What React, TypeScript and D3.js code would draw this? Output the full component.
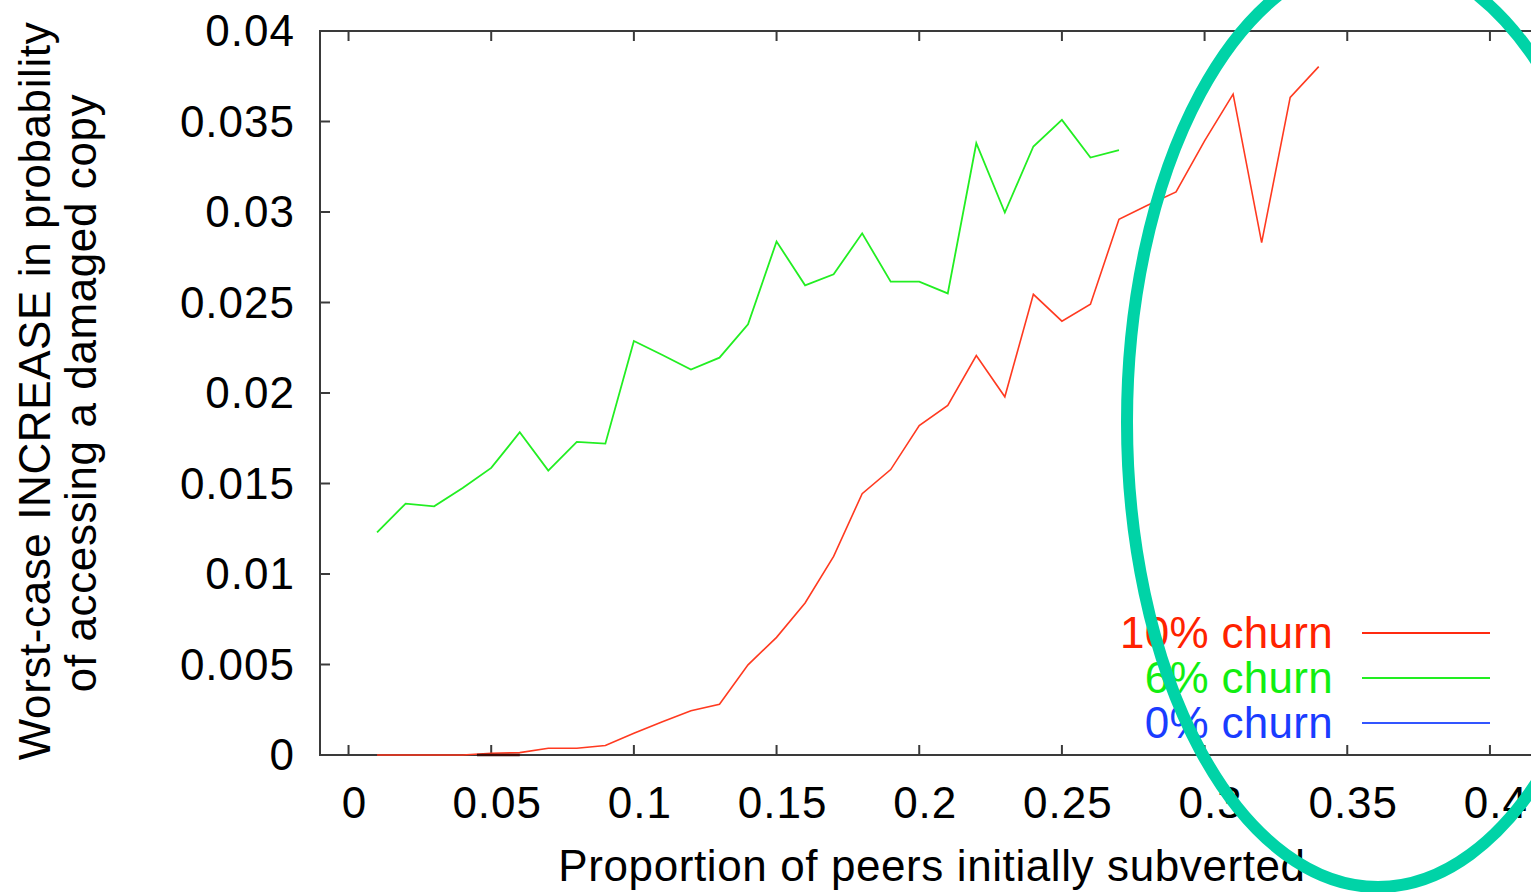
import * as d3 from "d3";
import * as React from "react";

// proportion of peers initially subverted
const xs10 = [0.01, 0.02, 0.03, 0.04, 0.05, 0.06, 0.07, 0.08, 0.09, 0.1, 0.11, 0.12, 0.13, 0.14, 0.15, 0.16, 0.17,
    0.18, 0.19, 0.2, 0.21, 0.22, 0.23, 0.24, 0.25, 0.26, 0.27, 0.28, 0.29, 0.3, 0.31, 0.32, 0.33, 0.34];
const churn10 = [0, 0, 0, 0, 0.0001, 0.00013, 0.00037, 0.00037, 0.00052, 0.0012, 0.00184, 0.00245, 0.0028, 0.00498,
    0.0065, 0.0084, 0.01097, 0.01444, 0.01577, 0.0182, 0.01931, 0.02207, 0.01979, 0.02545, 0.02397, 0.0249,
    0.0296, 0.03037, 0.03111, 0.03393, 0.03651, 0.02831, 0.03633, 0.03803];

const xs6 = [0.01, 0.02, 0.03, 0.04, 0.05, 0.06, 0.07, 0.08, 0.09, 0.1, 0.11, 0.12, 0.13, 0.14, 0.15, 0.16, 0.17,
    0.18, 0.19, 0.2, 0.21, 0.22, 0.23, 0.24, 0.25, 0.26, 0.27];
const churn6 = [0.0123, 0.01389, 0.01374, 0.01475, 0.01586, 0.01783, 0.01571, 0.0173, 0.0172, 0.02287, 0.0221,
    0.0213, 0.02195, 0.02379, 0.02837, 0.02595, 0.02656, 0.02882, 0.02615, 0.02615, 0.0255, 0.0338, 0.02997,
    0.03362, 0.03509, 0.03301, 0.03342];

const xs0 = [0.045, 0.05, 0.06];
const churn0 = [0, 0, 0];

const xTicks = [0, 0.05, 0.1, 0.15, 0.2, 0.25, 0.3, 0.35, 0.4];
const xTickLabels = ["0", "0.05", "0.1", "0.15", "0.2", "0.25", "0.3", "0.35", "0.4"];
const yTicks = [0, 0.005, 0.01, 0.015, 0.02, 0.025, 0.03, 0.035, 0.04];
const yTickLabels = ["0", "0.005", "0.01", "0.015", "0.02", "0.025", "0.03", "0.035", "0.04"];

const seriesNames = ["10% churn", "6% churn", "0% churn"];

const W = 1531;
const H = 892;
const font = "'Liberation Sans', Arial, Helvetica, sans-serif";
const axisColor = "#3a3a3a";

export default function App(): JSX.Element {
    const x = d3.scaleLinear().domain([-0.01, 0.42]).range([320, 1547]);
    const y = d3.scaleLinear().domain([0, 0.04]).range([755, 31]);

    const line = d3.line<[number, number]>()
        .x(d => x(d[0]))
        .y(d => y(d[1]));

    const series = [
        { name: seriesNames[0], color: "#ff2a10", textColor: "#ff2200", pts: xs10.map((v, i) => [v, churn10[i]] as [number, number]), lineColor: "#ff3a20", width: 1.6 },
        { name: seriesNames[1], color: "#22ee22", textColor: "#11ee11", pts: xs6.map((v, i) => [v, churn6[i]] as [number, number]), lineColor: "#22ee22", width: 1.8 },
        { name: seriesNames[2], color: "#3355ff", textColor: "#1a3cff", pts: xs0.map((v, i) => [v, churn0[i]] as [number, number]), lineColor: "#3a0c08", width: 2.5 },
    ];

    const [x0, x1] = x.range();
    const [yb, yt] = y.range();

    return (
        <svg width={W} height={H} style={{ position: "absolute", left: 0, top: 0, background: "#fff" }}
            fontFamily={font}>
            <rect x={0} y={0} width={W} height={H} fill="#fff" />

            {/* frame */}
            <rect x={x0} y={yt} width={x1 - x0} height={yb - yt} fill="none" stroke={axisColor} strokeWidth={2} />

            {xTicks.map((t, i) => (
                <g key={"xt" + i}>
                    <line x1={x(t)} x2={x(t)} y1={yb} y2={yb - 10} stroke={axisColor} strokeWidth={2} />
                    <line x1={x(t)} x2={x(t)} y1={yt} y2={yt + 10} stroke={axisColor} strokeWidth={2} />
                    <text x={x(t) + 6} y={818} fontSize={44} letterSpacing={1} textAnchor="middle" fill="#000">{xTickLabels[i]}</text>
                </g>
            ))}
            {yTicks.map((t, i) => (
                <g key={"yt" + i}>
                    <line x1={x0} x2={x0 + 10} y1={y(t)} y2={y(t)} stroke={axisColor} strokeWidth={2} />
                    <text x={295} y={y(t) + 15} fontSize={44} letterSpacing={1} textAnchor="end" fill="#000">{yTickLabels[i]}</text>
                </g>
            ))}

            {series.map(s => (
                <path key={s.name} d={line(s.pts) ?? ""} fill="none" stroke={s.lineColor} strokeWidth={s.width} />
            ))}

            {/* legend */}
            {series.map((s, i) => (
                <g key={"lg" + i}>
                    <text x={1333} y={648 + i * 45} fontSize={44} letterSpacing={0.3} textAnchor="end" fill={s.textColor}>{s.name}</text>
                    <line x1={1362} x2={1490} y1={633 + i * 45} y2={633 + i * 45} stroke={s.color} strokeWidth={1.8} />
                </g>
            ))}

            {/* axis titles */}
            <text x={932} y={881} fontSize={44} letterSpacing={0.6} textAnchor="middle" fill="#000">Proportion of peers initially subverted</text>
            <text transform="translate(50,391) rotate(-90)" fontSize={44} letterSpacing={0.6} textAnchor="middle" fill="#000">
                Worst-case INCREASE in probability
            </text>
            <text transform="translate(96,393) rotate(-90)" fontSize={44} letterSpacing={0.6} textAnchor="middle" fill="#000">
                of accessing a damaged copy
            </text>

            {/* annotation ring */}
            <ellipse cx={1378} cy={422} rx={251} ry={465} fill="none" stroke="#00d3a7" strokeWidth={12} />
        </svg>
    );
}
